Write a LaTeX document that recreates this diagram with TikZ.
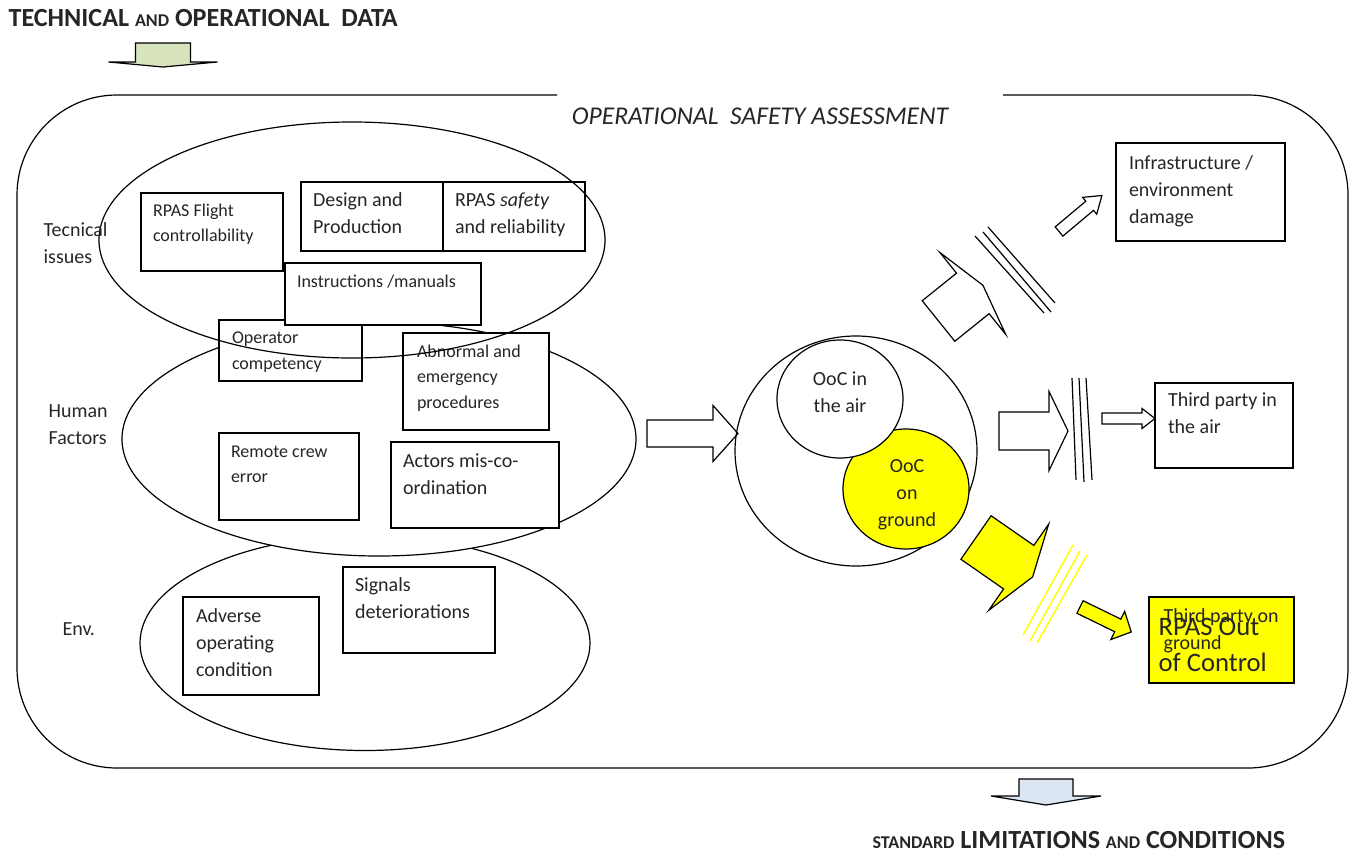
\documentclass[tikz,border=0pt]{standalone}
\usepackage{fontspec}
\setmainfont{Carlito}
\usetikzlibrary{shapes.geometric,fit}
\definecolor{tcol}{HTML}{262626}
\definecolor{ylw}{HTML}{FFFF00}
\definecolor{grn}{HTML}{D7E4BD}
\definecolor{blu}{HTML}{DCE6F2}
\newcommand\blockarr[8]{%
  \begin{scope}[shift={(#1,#2)}, rotate=#3]
  \draw[#8] (0,-#5) -- (#4,-#5) -- (#4,-#7) -- ({#4+#6},0) -- (#4,#7) -- (#4,#5) -- (0,#5) -- cycle;
  \end{scope}}
\begin{document}
\begin{tikzpicture}[x=0.75pt,y=-0.75pt, line width=0.9pt,
  box/.style={draw, fill=white, rectangle, inner sep=0pt},
  ell/.style={draw, ellipse, inner sep=0pt},
  txt/.style={font=\fontsize{15}{20.25}\selectfont, inner sep=0pt, align=left, text=tcol, anchor=north west},
  stxt/.style={txt, font=\fontsize{13.5}{19}\selectfont},
  ctxt/.style={txt, anchor=center, align=center},
  ttl/.style={font=\fontsize{19.6}{22}\selectfont\bfseries, inner sep=0pt, text=tcol},
  par3/.style={line width=0.9pt},
]
\useasboundingbox (0,0) rectangle (1358,853);

% titles
\node[ttl, anchor=west] (ttop) at (8,18) {TECHNICAL {\fontsize{13.5}{13}\selectfont AND} OPERATIONAL\ \ DATA};
\blockarr{163}{43}{-90}{19}{27.5}{5}{54.5}{fill=grn}
\node[ttl, anchor=west] (tbot) at (872,840) {{\fontsize{13.5}{13}\selectfont STANDARD} LIMITATIONS {\fontsize{13.5}{13}\selectfont AND} CONDITIONS};
\blockarr{1046}{779}{-90}{17}{27}{9}{55}{fill=blu}

% outer frame
\draw[rounded corners=75pt] (557,95) -- (17,95) -- (17,768) -- (1348,768) -- (1348,95) -- (1003,95);
\node[font=\fontsize{19.2}{22}\selectfont\itshape, text=tcol, inner sep=0pt] (osa) at (760,116) {OPERATIONAL\ \ SAFETY ASSESSMENT};

% ellipses
\node[ell, fill=white, minimum width={450*0.75pt}, minimum height={215*0.75pt}] (env) at (365,643) {};
\node[ell, fill=white, minimum width={514*0.75pt}, minimum height={234*0.75pt}] (hum) at (379,439) {};

% boxes
\node[box, fit={(141,193) (283,271)}] (b1) {};
\node[stxt] (t1) at ([shift={(12,11)}]b1.north west) {RPAS Flight\\controllability};
\node[box, fit={(301,182) (443,251)}] (b2) {};
\node[txt] (t2) at ([shift={(12,11)}]b2.north west) {Design and\\Production};
\node[box, fit={(443,182) (585,251)}] (b3) {};
\node[txt] (t3) at ([shift={(12,11)}]b3.north west) {RPAS \textit{safety}\\and reliability};
\node[box, fit={(219,320) (362,381)}] (b4) {};
\node[stxt] (t4) at ([shift={(13,12)}]b4.north west) {Operator\\competency};
\node[box, fit={(285,263) (481,325)}] (b5) {};
\node[stxt] (t5) at ([shift={(12,12)}]b5.north west) {Instructions /manuals};
\node[box, fit={(403,333) (549,430)}] (b6) {};
\node[stxt] (t6) at ([shift={(14,12)}]b6.north west) {Abnormal and\\emergency\\procedures};
\node[box, fit={(219,433) (359,520)}] (b7) {};
\node[stxt] (t7) at ([shift={(12,13)}]b7.north west) {Remote crew\\error};
\node[box, fit={(391,442) (559,528)}] (b8) {};
\node[txt] (t8) at ([shift={(12,12)}]b8.north west) {Actors mis-co-\\ordination};
\node[box, fit={(183,597) (319,695)}] (b9) {};
\node[txt] (t9) at ([shift={(13,12)}]b9.north west) {Adverse\\operating\\condition};
\node[box, fit={(343,567) (495,653)}] (b10) {};
\node[txt] (t10) at ([shift={(12,11)}]b10.north west) {Signals\\deteriorations};

\node[ell, minimum width={506*0.75pt}, minimum height={236*0.75pt}] (tech) at (352,240) {};

% side labels
\node[txt] (l1) at (43,222) {Tecnical\\issues};
\node[txt] (l2) at (48,404) {Human\\Factors};
\node[txt] (l3) at (62,622) {Env.};

% central circles
\blockarr{647}{433.5}{0}{66}{13.5}{25}{28}{fill=white}
\node[ell, minimum width={242*0.75pt}, minimum height={230*0.75pt}] (ooc) at (856,451) {};
\node[ell, fill=ylw, minimum width={126*0.75pt}, minimum height={120*0.75pt}] (gnd) at (906,489) {};
\node[ell, fill=white, minimum width={126*0.75pt}, minimum height={118*0.75pt}] (air) at (840,399) {};
\node[ctxt] (tair) at (840,392) {OoC in\\the air};
\node[ctxt] (tgnd) at (907,495) {OoC\\on\\ground};

% top right branch
\blockarr{938.5}{321}{38.8}{44}{26}{13}{52.5}{fill=white}
\draw[par3] (975,236) -- (1044,313);
\draw[par3] (983,232) -- (1051,312);
\draw[par3] (988,227) -- (1055,303);
\blockarr{1059}{231.5}{40}{40}{6}{16}{11}{fill=white}
\node[box, fit={(1116,143) (1285,241)}] (b11) {};
\node[txt] (t11) at ([shift={(13,13)}]b11.north west) {Infrastructure /\\environment\\damage};

% middle branch
\blockarr{999}{431}{0}{50}{19}{19}{39.5}{fill=white}
\draw[par3] (1072,378) -- (1076,480);
\draw[par3] (1079,378) -- (1084,482);
\draw[par3] (1086,378) -- (1092,480);
\blockarr{1102}{418.5}{0}{40}{5.5}{13}{10}{fill=white}
\node[box, fit={(1155,383) (1293,468)}] (b12) {};
\node[txt] (t12) at ([shift={(13,10)}]b12.north west) {Third party in\\the air};

% bottom branch
\blockarr{976}{537.5}{-34.8}{52}{26.5}{17}{52.5}{fill=ylw}
\draw[ylw, line width=1.1pt] (1023,635) -- (1073,545);
\draw[ylw, line width=1.1pt] (1030,641) -- (1080,551);
\draw[ylw, line width=1.1pt] (1037,643) -- (1087,555);
\blockarr{1080}{607}{-26}{42}{7}{15}{15.7}{fill=ylw}
\node[box, fill=ylw, fit={(1149,597) (1294,683)}] (b13) {};
\node[txt] (t13a) at (1163,608) {Third party on\\ground};
\node[txt, font=\fontsize{20}{27}\selectfont] (t13b) at (1158,618) {RPAS Out\\of Control};
\end{tikzpicture}
\end{document}
